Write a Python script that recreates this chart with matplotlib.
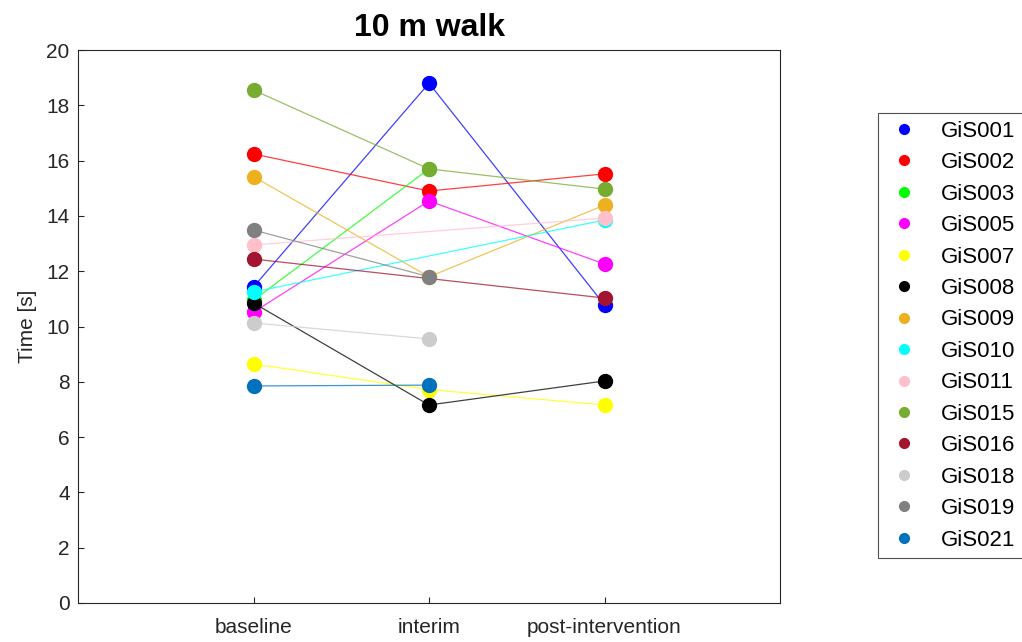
import matplotlib

matplotlib.use("Agg")

import matplotlib.pyplot as plt
import numpy as np
from matplotlib.lines import Line2D

plt.rcParams["font.family"] = ["Liberation Sans", "DejaVu Sans"]

timepoints = ["baseline", "interim", "post-intervention"]
subjects = ["GiS001", "GiS002", "GiS003", "GiS005", "GiS007", "GiS008", "GiS009",
            "GiS010", "GiS011", "GiS015", "GiS016", "GiS018", "GiS019", "GiS021"]
nan = np.nan
times = [
    [11.43, 18.80, 10.78],
    [16.24, 14.90, 15.52],
    [10.95, 15.70, nan],
    [10.52, 14.54, 12.26],
    [8.64, 7.72, 7.16],
    [10.85, 7.16, 8.03],
    [15.42, 11.80, 14.39],
    [11.25, nan, 13.85],
    [12.95, nan, 13.92],
    [18.55, 15.70, 14.97],
    [12.44, nan, 11.03],
    [10.13, 9.55, nan],
    [13.49, 11.80, nan],
    [7.85, 7.88, nan],
]
colors = ["#0000FF", "#FF0000", "#00FF00", "#FF00FF", "#FFFF00", "#000000", "#EDB120",
          "#00FFFF", "#FFC0CB", "#77AC30", "#A2142F", "#CCCCCC", "#808080", "#0072BD"]


def main():
    fig = plt.figure(figsize=(10.22, 6.42), dpi=100)
    ax = fig.add_axes([78 / 1022, 39 / 642, 702 / 1022, 553 / 642])

    x = np.arange(1, len(timepoints) + 1)
    handles = []
    for name, values, color in zip(subjects, times, colors):
        y = np.asarray(values, dtype=float)
        ok = ~np.isnan(y)
        ax.plot(x[ok], y[ok], color=color, linewidth=0.9, alpha=0.75)
        ax.plot(x[ok], y[ok], linestyle="none", marker="o", markersize=10,
                color=color)
        handles.append(Line2D([], [], linestyle="none", marker="o",
                              markersize=7, color=color, label=name))

    ax.set_xlim(0, 4)
    ax.set_ylim(0, 20)
    ax.set_xticks(x)
    ax.set_xticklabels(timepoints)
    ax.set_yticks(np.arange(0, 21, 2))
    ax.tick_params(direction="in", length=4, labelsize=15, colors="#262626")
    ax.tick_params(axis="x", pad=11)
    ax.tick_params(axis="y", pad=6)
    for spine in ax.spines.values():
        spine.set_color("#262626")
        spine.set_linewidth(0.8)
    ax.set_ylabel("Time [s]", fontsize=15, color="#262626", labelpad=7)
    ax.set_title("10 m walk", fontsize=23, fontweight="bold", pad=10)

    leg = fig.legend(handles=handles, loc="upper left",
                     bbox_to_anchor=(878 / 1022, 1 - 113 / 642),
                     fontsize=16, frameon=True, fancybox=False,
                     borderaxespad=0, labelspacing=0.47, handletextpad=0.9,
                     borderpad=0.35, handlelength=1.6)
    leg.get_frame().set_edgecolor("#262626")
    leg.get_frame().set_linewidth(0.8)

    fig.savefig("out.png", dpi=100)
    plt.close(fig)


if __name__ == "__main__":
    main()
